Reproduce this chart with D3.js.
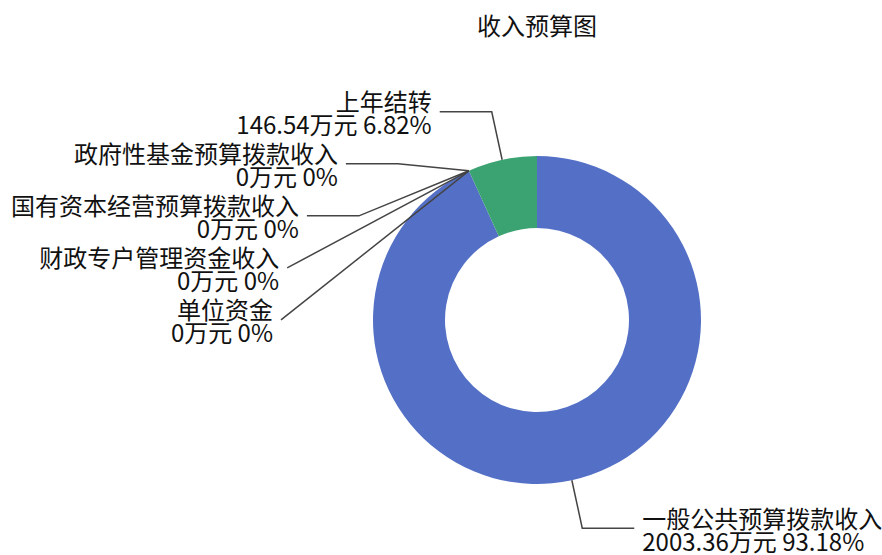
<!DOCTYPE html>
<html>
<head>
<meta charset="utf-8">
<script src="https://cdn.jsdelivr.net/npm/d3@7"></script>
<style>
  body { margin: 0; background: #fff; }
  text { font-family: "Noto Sans CJK SC", "Noto Sans", sans-serif; }
</style>
</head>
<body>
<div id="app"></div>
<script>
const title = "收入预算图";
const categories = ["一般公共预算拨款收入", "政府性基金预算拨款收入", "国有资本经营预算拨款收入", "财政专户管理资金收入", "单位资金", "上年结转"];
const values = [2003.36, 0, 0, 0, 0, 146.54];
const colors = ["#5470c6", "#91cc75", "#fac858", "#ee6666", "#73c0de", "#3ba272"];
const unit = "万元";

const width = 882,
  height = 555,
  cx = 537,
  cy = 320,
  outerR = 164,
  innerR = 92,
  len1 = 49, // radial part of the label line
  len2 = 52, // horizontal part of the label line
  rA = outerR + len1 - 9, // horizontal radius of the ellipse labels sit on
  textGap = 8,
  labelH = 52,
  fontSize = 24;

const data = categories.map((name, i) => ({ name, value: values[i], color: colors[i] }));
const total = d3.sum(values);

const svg = d3
  .select("#app")
  .append("svg")
  .attr("width", width)
  .attr("height", height)
  .attr("viewBox", [0, 0, width, height]);

svg.append("rect").attr("width", width).attr("height", height).attr("fill", "#fff");

svg
  .append("text")
  .attr("x", cx)
  .attr("y", 24)
  .attr("text-anchor", "middle")
  .attr("dominant-baseline", "central")
  .attr("font-size", fontSize)
  .attr("fill", "#111")
  .text(title);

const pie = d3.pie().sort(null).value((d) => d.value);
const arcs = pie(data);
const arc = d3.arc().innerRadius(innerR).outerRadius(outerR);

svg
  .append("g")
  .attr("transform", `translate(${cx},${cy})`)
  .selectAll("path")
  .data(arcs)
  .join("path")
  .attr("d", arc)
  .attr("fill", (d) => d.data.color);

// label layout, roughly the way echarts places pie labels
const labels = arcs.map((a) => {
  const mid = (a.startAngle + a.endAngle) / 2;
  const ux = Math.sin(mid),
    uy = -Math.cos(mid);
  const dir = ux < 0 ? -1 : 1;
  const p0 = [cx + ux * outerR, cy + uy * outerR];
  const p1 = [cx + ux * (outerR + len1), cy + uy * (outerR + len1)];
  return { d: a.data, ux, uy, dir, p0, p1, x: p1[0] + dir * len2, y: p1[1] };
});

[-1, 1].forEach((dir) => {
  const side = labels.filter((l) => l.dir === dir).sort((a, b) => a.y - b.y);
  if (!side.length) return;
  for (let i = 1; i < side.length; i++) side[i].y = Math.max(side[i].y, side[i - 1].y + labelH);
  [side.filter((l) => l.y <= cy), side.filter((l) => l.y > cy)].forEach((list) => {
    if (!list.length) return;
    const far = list.reduce((m, l) => (Math.abs(l.y - cy) >= Math.abs(m.y - cy) ? l : m));
    const dx = far.p1[0] - cx,
      dy = far.y - cy;
    const rB = Math.abs(dx) < rA ? Math.sqrt((dy * dy) / (1 - (dx * dx) / (rA * rA))) : rA;
    list.forEach((l) => {
      const ly = Math.abs(l.y - cy);
      const lx = Math.sqrt(Math.max(0, 1 - (ly * ly) / (rB * rB))) * rA;
      l.x = cx + (lx + len2) * dir;
    });
  });
});

// keep the first segment from cutting back into the ring
labels.forEach((l) => {
  const p2 = [l.x, l.y];
  let p1 = [l.x - l.dir * len2, l.y];
  const vx = p1[0] - l.p0[0],
    vy = p1[1] - l.p0[1];
  const vlen = Math.hypot(vx, vy);
  if ((vx * l.ux + vy * l.uy) / vlen < 0) {
    const d = Math.abs(l.p0[1] - l.y);
    const angle2 = Math.acos(l.dir * l.ux);
    let t;
    if (angle2 >= Math.PI / 2) t = 1;
    else {
      const tx = l.p0[0] + (l.dir * d) / Math.tan(Math.PI / 2 - angle2);
      t = (tx - p1[0]) / (p2[0] - p1[0]);
    }
    t = Math.max(0, Math.min(1, t));
    p1 = [p1[0] + (p2[0] - p1[0]) * t, l.y];
  }
  l.points = [l.p0, p1, p2];
});

const pct = (v) => +((v / total) * 100).toFixed(2) + "%";

svg
  .append("g")
  .selectAll("path")
  .data(labels)
  .join("path")
  .attr("d", (l) => d3.line()(l.points))
  .attr("fill", "none")
  .attr("stroke", "#444")
  .attr("stroke-width", 1.5);

const lg = svg
  .append("g")
  .attr("font-size", fontSize)
  .attr("fill", "#111")
  .selectAll("text")
  .data(labels)
  .join("text")
  .attr("text-anchor", (l) => (l.dir < 0 ? "end" : "start"));

lg.append("tspan")
  .attr("x", (l) => l.x + l.dir * textGap)
  .attr("y", (l) => l.y - 11)
  .attr("dominant-baseline", "central")
  .text((l) => l.d.name);

lg.append("tspan")
  .attr("x", (l) => l.x + l.dir * textGap)
  .attr("y", (l) => l.y + 12)
  .attr("dominant-baseline", "central")
  .text((l) => `${l.d.value}${unit} ${pct(l.d.value)}`);
</script>
</body>
</html>
